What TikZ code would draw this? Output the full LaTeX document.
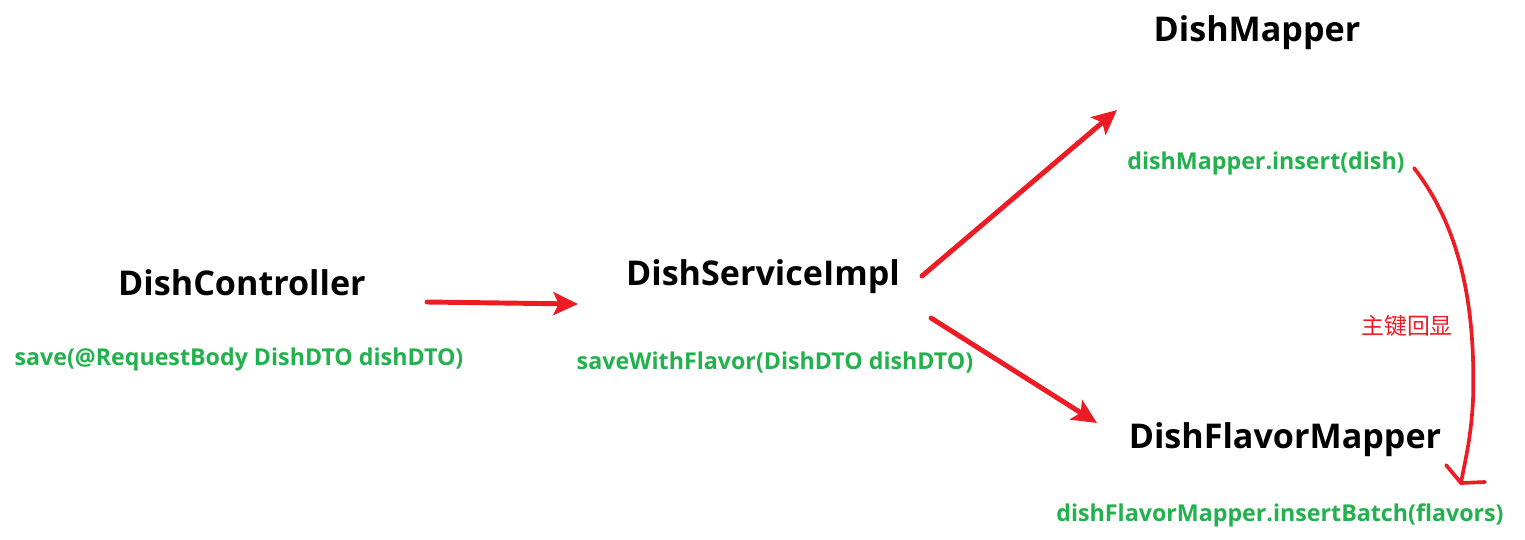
\documentclass[tikz,border=0pt]{standalone}
\usepackage{fontspec}
\setmainfont{Open Sans}
\newfontfamily\cjk{Noto Sans CJK SC}
\usetikzlibrary{arrows.meta}
\definecolor{penred}{RGB}{237,28,36}
\definecolor{codegreen}{RGB}{34,177,76}
\tikzset{
  cls/.style={font=\fontsize{9.7}{11}\selectfont\bfseries,text=black,inner sep=0pt},
  call/.style={font=\fontsize{6.6}{8}\selectfont\bfseries,text=codegreen,inner sep=0pt},
  flow/.style={penred,line width=1.4pt,line cap=round,-{Stealth[length=7pt,width=6.5pt,inset=1.5pt]}},
  echo/.style={penred,line width=1.05pt,line cap=round,line join=round}
}
\begin{document}
\begin{tikzpicture}[x=0.01cm,y=-0.01cm]
        \useasboundingbox (0,0) rectangle (1525,539);
        % classes
        \node[cls] (ctrl) at (242,283) {DishController};
        \node[cls] (impl) at (763,277) {DishServiceImpl};
        \node[cls] (dmap) at (1257,33) {DishMapper};
        \node[cls] (fmap) at (1285,440) {DishFlavorMapper};
        % method calls
        \node[call] (save) at (239,359) {save(@RequestBody DishDTO dishDTO)};
        \node[call] (swf) at (775,363) {saveWithFlavor(DishDTO dishDTO)};
        \node[call] (ins) at (1266,163) {dishMapper.insert(dish)};
        \node[call] (batch) at (1280,515) {dishFlavorMapper.insertBatch(flavors)};
        \node[font=\cjk\fontsize{6.5}{8}\selectfont,text=penred,inner sep=0pt] (key) at (1407,326) {主键回显};
        % arrow ends
        \coordinate (c1) at (427,302);
        \coordinate (s1) at (578,304);
        \coordinate (s2) at (922,276);
        \coordinate (m1) at (1117,110);
        \coordinate (s3) at (931,318);
        \coordinate (m2) at (1097,423);
        \coordinate (e1) at (1414,168);
        \coordinate (tipB) at (1461,483);
        \draw[flow] (c1) -- (s1);
        \draw[flow] (s2) -- (m1);
        \draw[flow] (s3) -- (m2);
        \draw[echo] (e1) .. controls (1458,225) and (1476,300) .. (1473,400) .. controls (1471,440) and (1464,465) .. (tipB);
        \draw[echo] (1446,465) -- (tipB) -- (1485,482);
\end{tikzpicture}
\end{document}
